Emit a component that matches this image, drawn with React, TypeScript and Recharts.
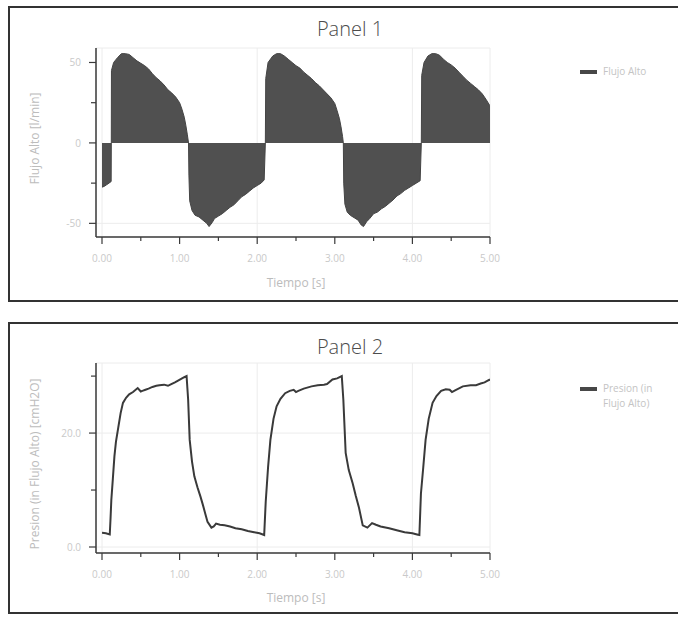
import React from 'react';
import {
  AreaChart,
  Area,
  LineChart,
  Line,
  XAxis,
  YAxis,
  CartesianGrid,
  Legend,
} from 'recharts';

// ---------- Panel 1: Flujo Alto [l/min] ----------
const flowTime = [
  0.0, 0.03, 0.06, 0.09, 0.118, 0.12, 0.122, 0.15, 0.2, 0.25, 0.3, 0.35, 0.4, 0.45, 0.5,
  0.55, 0.6, 0.65, 0.7, 0.75, 0.8, 0.85, 0.9, 0.95, 1.0, 1.03, 1.06, 1.08, 1.1, 1.115,
  1.12, 1.13, 1.16, 1.2, 1.25, 1.3, 1.35, 1.38, 1.42, 1.45, 1.5, 1.55, 1.6, 1.65, 1.7,
  1.75, 1.8, 1.85, 1.9, 1.95, 2.0, 2.05, 2.09, 2.105, 2.11, 2.14, 2.2, 2.25, 2.3, 2.35,
  2.4, 2.45, 2.5, 2.55, 2.6, 2.65, 2.7, 2.75, 2.8, 2.85, 2.9, 2.95, 3.0, 3.03, 3.06,
  3.08, 3.1, 3.11, 3.115, 3.13, 3.16, 3.2, 3.25, 3.3, 3.34, 3.37, 3.41, 3.45, 3.5, 3.55,
  3.6, 3.65, 3.7, 3.75, 3.8, 3.85, 3.9, 3.95, 4.0, 4.05, 4.1, 4.115, 4.12, 4.15, 4.2,
  4.25, 4.3, 4.35, 4.4, 4.45, 4.5, 4.55, 4.6, 4.65, 4.7, 4.75, 4.8, 4.85, 4.9, 4.95, 5.0,
];
const flowValues = [
  -27.5, -27, -26, -25, -24, 0, 45, 50, 53, 55.5, 55.5, 55, 53, 51, 49.5,
  48, 46, 43, 40.5, 38.5, 36, 33, 31, 28.5, 25, 21, 16, 11, 5, 0,
  -20, -36, -42, -45, -46, -48, -50, -52, -49.5, -47, -45.5, -44, -42, -40, -38.5,
  -36, -33.5, -32, -30, -28, -26.5, -25, -23, 0, 40, 50, 54, 55.5, 55.5, 54,
  52, 50, 48, 46.5, 44, 42, 40, 37.5, 35.5, 33, 30.5, 28, 24.5, 20, 15,
  10, 4, 0, -25, -38, -43, -45, -46.5, -48, -51, -52, -49, -47, -44, -43,
  -41, -39.5, -37.5, -35.5, -33, -31.5, -29.5, -28, -26.5, -25, -23.5, 0, 42, 50, 54,
  55.5, 55.5, 54.5, 52, 50, 48.5, 46.5, 44, 41.5, 39, 37, 35, 33, 30.5, 27, 23,
];

// ---------- Panel 2: Presion (in Flujo Alto) [cmH2O] ----------
const pressureTime = [
  0.0, 0.05, 0.1, 0.11, 0.12, 0.14, 0.16, 0.18, 0.21, 0.24, 0.27, 0.31, 0.35, 0.4, 0.46,
  0.5, 0.52, 0.56, 0.6, 0.65, 0.7, 0.74, 0.8, 0.85, 0.88, 0.94, 0.98, 1.02, 1.06, 1.09,
  1.11, 1.13, 1.16, 1.19, 1.23, 1.27, 1.3, 1.33, 1.36, 1.41, 1.44, 1.47, 1.52, 1.58, 1.65,
  1.72, 1.8, 1.88, 1.96, 2.03, 2.09, 2.11, 2.14, 2.17, 2.21, 2.25, 2.3, 2.36, 2.42, 2.47,
  2.5, 2.53, 2.6, 2.7, 2.78, 2.86, 2.9, 2.97, 3.03, 3.09, 3.11, 3.14, 3.18, 3.23, 3.27,
  3.31, 3.36, 3.42, 3.48, 3.53, 3.59, 3.7, 3.81, 3.9, 4.0, 4.06, 4.09, 4.11, 4.14, 4.17,
  4.21, 4.26, 4.31, 4.37, 4.43, 4.48, 4.51, 4.55, 4.65, 4.75, 4.82, 4.88, 4.93, 4.97, 5.0,
];
const pressureValues = [
  2.5, 2.4, 2.2, 5, 8.2, 12, 15.9, 18.5, 21, 23.5, 25.3, 26.2, 26.8, 27.2, 27.9,
  27.3, 27.4, 27.6, 27.8, 28.1, 28.3, 28.4, 28.5, 28.3, 28.5, 28.9, 29.2, 29.5, 29.8, 30,
  25.9, 18.8, 15, 12.4, 10.5, 8.8, 7.4, 5.9, 4.4, 3.4, 3.6, 4.1, 3.9, 3.8, 3.6,
  3.3, 3.1, 2.8, 2.6, 2.4, 2.1, 8, 14, 18.8, 22.5, 24.7, 26, 27, 27.4, 27.6,
  27.2, 27.4, 27.8, 28.2, 28.4, 28.5, 28.6, 29.4, 29.6, 30, 25.9, 16.5, 13.5, 11.2, 9,
  7, 3.8, 3.4, 4.2, 3.9, 3.6, 3.3, 2.9, 2.6, 2.4, 2.2, 2.1, 9.4, 14, 18.8,
  22.5, 25.3, 26.5, 27.4, 27.7, 27.6, 27.2, 27.5, 28.2, 28.4, 28.4, 28.7, 28.9, 29.2, 29.4,
];

// ---------- Axis ticks / labels ----------
const timeTicks = [0, 0.5, 1, 1.5, 2, 2.5, 3, 3.5, 4, 4.5, 5];
const timeTickLabels = ['0.00', '', '1.00', '', '2.00', '', '3.00', '', '4.00', '', '5.00'];
const timeGridTicks = [0, 2, 4, 5];

const flowTicks = [-50, -25, 0, 25, 50];
const flowTickLabels = ['-50', '', '0', '', '50'];
const flowGridTicks = [-50, 50, 59];
const flowDomain = [-56, 59];

const pressureTicks = [0, 10, 20, 30];
const pressureTickLabels = ['0.0', '', '20.0', ''];
const pressureGridTicks = [0, 20, 32.3];
const pressureDomain = [0, 32.3];

const flowData = flowTime.map((t, i) => ({ t, flow: flowValues[i] }));
const pressureData = pressureTime.map((t, i) => ({ t, pres: pressureValues[i] }));

const FONT = '"Open Sans", "DejaVu Sans", sans-serif';
const AXIS_COLOR = '#3a3a3a';
const TICK_TEXT = '#c9c9c9';
const TITLE_TEXT = '#bcbcbc';

const makeXTick = (ticks: number[], labels: string[]) => (props: any) => {
  const { x, y, payload } = props;
  const idx = ticks.indexOf(payload.value);
  const label = idx >= 0 ? labels[idx] : '';
  const len = label ? 7 : 4;
  return (
    <g>
      <line x1={x} x2={x} y1={y} y2={y + len} stroke={AXIS_COLOR} strokeWidth={1.2} />
      {label && (
        <text
          x={x}
          y={y + 21}
          textAnchor="middle"
          dominantBaseline="central"
          fill={TICK_TEXT}
          fontSize={10}
          fontFamily={FONT}
        >
          {label}
        </text>
      )}
    </g>
  );
};

const makeYTick = (ticks: number[], labels: string[]) => (props: any) => {
  const { x, y, payload } = props;
  const idx = ticks.indexOf(payload.value);
  const label = idx >= 0 ? labels[idx] : '';
  const len = label ? 7 : 5;
  return (
    <g>
      <line x1={x} x2={x - len} y1={y} y2={y} stroke={AXIS_COLOR} strokeWidth={1.2} />
      {label && (
        <text
          x={x - 15}
          y={y}
          textAnchor="end"
          dominantBaseline="central"
          fill={TICK_TEXT}
          fontSize={10}
          fontFamily={FONT}
        >
          {label}
        </text>
      )}
    </g>
  );
};

const LegendBox = ({ text, width }: { text: string; width: number }) => (
  <div
    style={{
      display: 'flex',
      alignItems: 'flex-start',
      fontFamily: FONT,
      fontSize: 10,
      color: '#c4c4c4',
      lineHeight: '15px',
    }}
  >
    <div style={{ width: 17, height: 4, background: '#474747', marginTop: 5.5, marginRight: 6, flex: 'none' }} />
    <div style={{ width }}>{text}</div>
  </div>
);

const panelStyle = (top: number, height: number): React.CSSProperties => ({
  position: 'absolute',
  left: 8,
  top,
  width: 700,
  height,
  border: '2px solid #333',
  boxSizing: 'border-box',
});

const titleStyle = (top: number): React.CSSProperties => ({
  position: 'absolute',
  left: 250,
  width: 200,
  top,
  textAlign: 'center',
  fontFamily: FONT,
  fontWeight: 300,
  fontSize: 20,
  lineHeight: '24px',
  color: '#4c4c4c',
});

export default function App() {
  return (
    <div
      style={{
        position: 'absolute',
        left: 0,
        top: 0,
        width: 678,
        height: 619,
        background: '#ffffff',
        overflow: 'hidden',
      }}
    >
      <div style={panelStyle(6, 296)} />
      <div style={panelStyle(322, 292)} />
      <div style={titleStyle(17)}>Panel 1</div>
      <div style={titleStyle(335)}>Panel 2</div>

      {/* Panel 1 chart */}
      <div style={{ position: 'absolute', left: 0, top: 0 }}>
        <AreaChart
          width={678}
          height={300}
          data={flowData}
          margin={{ top: 48, right: 188, bottom: 33, left: 56 }}
        >
          <XAxis xAxisId="g" dataKey="t" type="number" domain={[0, 5]} ticks={timeGridTicks} padding={{ left: 6, right: 0 }} allowDataOverflow hide />
          <YAxis yAxisId="g" type="number" domain={flowDomain} ticks={flowGridTicks} padding={{ top: 0, bottom: 4 }} allowDataOverflow hide />
          <CartesianGrid xAxisId="g" yAxisId="g" stroke="#ececec" strokeWidth={1} />
          <XAxis
            dataKey="t"
            type="number"
            domain={[0, 5]}
            ticks={timeTicks}
            interval={0}
            padding={{ left: 6, right: 0 }}
            allowDataOverflow
            height={30}
            tickSize={0}
            tickMargin={0}
            tickLine={false}
            axisLine={{ stroke: AXIS_COLOR, strokeWidth: 1.5 }}
            tick={makeXTick(timeTicks, timeTickLabels)}
            label={{ value: 'Tiempo [s]', position: 'bottom', offset: 11, dx: 3, fill: TITLE_TEXT, fontSize: 12, fontFamily: FONT }}
          />
          <YAxis
            type="number"
            domain={flowDomain}
            ticks={flowTicks}
            interval={0}
            padding={{ top: 0, bottom: 4 }}
            allowDataOverflow
            width={40}
            tickSize={0}
            tickMargin={0}
            tickLine={false}
            axisLine={{ stroke: AXIS_COLOR, strokeWidth: 1.5 }}
            tick={makeYTick(flowTicks, flowTickLabels)}
            label={{ value: 'Flujo Alto [l/min]', angle: -90, position: 'center', dx: -41, dy: -4, fill: TITLE_TEXT, fontSize: 12, fontFamily: FONT }}
          />
          <Area
            type="linear"
            dataKey="flow"
            name="Flujo Alto"
            baseValue={0}
            stroke="#444"
            strokeWidth={1}
            fill="#505050"
            fillOpacity={1}
            isAnimationActive={false}
            dot={false}
            activeDot={false}
          />
          <Legend
            layout="vertical"
            align="center"
            verticalAlign="middle"
            wrapperStyle={{ left: 580, top: 64, width: 95 }}
            content={() => <LegendBox text="Flujo Alto" width={70} />}
          />
        </AreaChart>
      </div>

      {/* Panel 2 chart */}
      <div style={{ position: 'absolute', left: 0, top: 310 }}>
        <LineChart
          width={678}
          height={309}
          data={pressureData}
          margin={{ top: 53, right: 188, bottom: 36, left: 56 }}
        >
          <XAxis xAxisId="g" dataKey="t" type="number" domain={[0, 5]} ticks={timeGridTicks} padding={{ left: 6, right: 0 }} allowDataOverflow hide />
          <YAxis yAxisId="g" type="number" domain={pressureDomain} ticks={pressureGridTicks} padding={{ top: 0, bottom: 6 }} allowDataOverflow hide />
          <CartesianGrid xAxisId="g" yAxisId="g" stroke="#ececec" strokeWidth={1} />
          <XAxis
            dataKey="t"
            type="number"
            domain={[0, 5]}
            ticks={timeTicks}
            interval={0}
            padding={{ left: 6, right: 0 }}
            allowDataOverflow
            height={30}
            tickSize={0}
            tickMargin={0}
            tickLine={false}
            axisLine={{ stroke: AXIS_COLOR, strokeWidth: 1.5 }}
            tick={makeXTick(timeTicks, timeTickLabels)}
            label={{ value: 'Tiempo [s]', position: 'bottom', offset: 10, dx: 3, fill: TITLE_TEXT, fontSize: 12, fontFamily: FONT }}
          />
          <YAxis
            type="number"
            domain={pressureDomain}
            ticks={pressureTicks}
            interval={0}
            padding={{ top: 0, bottom: 6 }}
            allowDataOverflow
            width={40}
            tickSize={0}
            tickMargin={0}
            tickLine={false}
            axisLine={{ stroke: AXIS_COLOR, strokeWidth: 1.5 }}
            tick={makeYTick(pressureTicks, pressureTickLabels)}
            label={{ value: 'Presion (in Flujo Alto) [cmH2O]', angle: -90, position: 'center', dx: -41, dy: 6, fill: TITLE_TEXT, fontSize: 12, fontFamily: FONT }}
          />
          <Line
            type="linear"
            dataKey="pres"
            name="Presion (in Flujo Alto)"
            stroke="#3a3a3a"
            strokeWidth={2}
            dot={false}
            activeDot={false}
            isAnimationActive={false}
          />
          <Legend
            layout="vertical"
            align="center"
            verticalAlign="middle"
            wrapperStyle={{ left: 580, top: 71, width: 95 }}
            content={() => <LegendBox text="Presion (in Flujo Alto)" width={56} />}
          />
        </LineChart>
      </div>
    </div>
  );
}
